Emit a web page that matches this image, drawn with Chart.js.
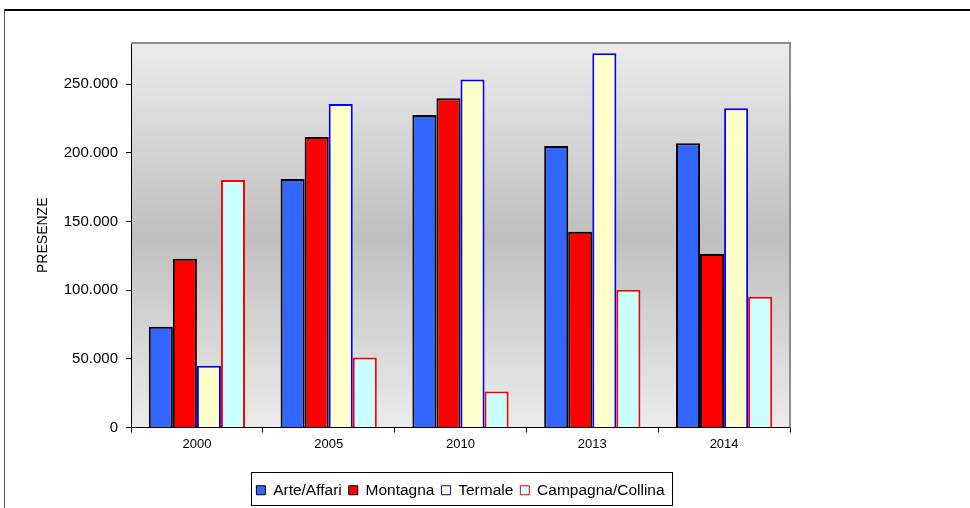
<!DOCTYPE html>
<html>
<head>
<meta charset="utf-8">
<script src="https://cdn.jsdelivr.net/npm/chart.js@4.4.1/dist/chart.umd.min.js"></script>
<style>
  html, body { margin:0; padding:0; background:#fff; }
  #wrap { position:relative; width:970px; height:508px; overflow:hidden; }
  #frame { position:absolute; left:4px; top:9px; width:980px; height:520px; border-top:2px solid #000; border-left:1px solid #555; box-sizing:border-box; }
  canvas { position:absolute; left:0; top:0; }
</style>
</head>
<body>
<div id="wrap">
  <div id="frame"></div>
  <canvas id="c" width="970" height="508"></canvas>
</div>
<script>
const categories = ['2000', '2005', '2010', '2013', '2014'];
const arteAffari = [73400, 181000, 227500, 205000, 207000];
const montagna = [122800, 211500, 239800, 142500, 126400];
const termale = [45000, 235500, 253500, 272500, 232500];
const campagnaCollina = [180200, 51000, 26200, 100400, 95200];
const yTicks = [0, 50000, 100000, 150000, 200000, 250000];

function fmt(v) {
  return String(v).replace(/\B(?=(\d{3})+(?!\d))/g, '.');
}

const FONT = 'Liberation Sans, Arial, sans-serif';

const bgPlugin = {
  id: 'plotBg',
  beforeDraw(chart) {
    const {ctx, chartArea: a} = chart;
    const g = ctx.createLinearGradient(0, a.top, 0, a.bottom);
    g.addColorStop(0, '#ececec');
    g.addColorStop(0.5, '#bfbfbf');
    g.addColorStop(1, '#ebebeb');
    ctx.save();
    ctx.fillStyle = g;
    ctx.fillRect(a.left, a.top, a.right - a.left, a.bottom - a.top);
    ctx.restore();
  },
  afterDraw(chart) {
    const {ctx, chartArea: a} = chart;
    ctx.save();
    ctx.strokeStyle = '#8c8c8c';
    ctx.lineWidth = 2;
    ctx.beginPath();
    ctx.moveTo(a.left, a.top);
    ctx.lineTo(a.right, a.top);
    ctx.lineTo(a.right, a.bottom);
    ctx.stroke();
    const lg = chart.legend;
    if (lg && lg.legendHitBoxes && lg.legendHitBoxes.length) {
      const hb = lg.legendHitBoxes;
      const x0 = hb[0].left - 5;
      const last = hb[hb.length - 1];
      const x1 = last.left + last.width + 8;
      const y0 = hb[0].top - 11;
      const y1 = hb[0].top + hb[0].height + 6;
      ctx.strokeStyle = '#000';
      ctx.lineWidth = 1;
      ctx.strokeRect(Math.round(x0) + 0.5, Math.round(y0) + 0.5, Math.round(x1 - x0), Math.round(y1 - y0));
    }
    ctx.restore();
  }
};

new Chart(document.getElementById('c'), {
  type: 'bar',
  data: {
    labels: categories,
    datasets: [
      { label: 'Arte/Affari', data: arteAffari, backgroundColor: '#3366ff', borderColor: '#000000', borderWidth: 2 },
      { label: 'Montagna', data: montagna, backgroundColor: '#ff0000', borderColor: '#000000', borderWidth: 2 },
      { label: 'Termale', data: termale, backgroundColor: '#ffffcc', borderColor: '#0000ff', borderWidth: 2 },
      { label: 'Campagna/Collina', data: campagnaCollina, backgroundColor: '#ccffff', borderColor: '#ff0000', borderWidth: 2 }
    ]
  },
  options: {
    responsive: false,
    animation: false,
    devicePixelRatio: 1,
    layout: { padding: { left: 32, top: 43, right: 180, bottom: 0 } },
    datasets: { bar: { categoryPercentage: 0.73, barPercentage: 1.0 } },
    plugins: {
      legend: {
        position: 'bottom',
        fullSize: false,
        labels: {
          boxWidth: 9, boxHeight: 9, padding: 7,
          color: '#000',
          generateLabels(chart) {
            const items = Chart.defaults.plugins.legend.labels.generateLabels(chart);
            items.forEach(it => { it.lineWidth = 1; });
            return items;
          },
          font: { family: FONT, size: 15.5 }
        }
      },
      tooltip: { enabled: false },
      title: { display: false }
    },
    scales: {
      x: {
        grid: { display: true, drawOnChartArea: false, drawTicks: true, tickLength: 5, color: '#000', offset: true },
        border: { display: true, color: '#000', width: 1 },
        ticks: { color: '#000', padding: 4, font: { family: FONT, size: 13 } },
        afterFit(s) { s.height = 48; }
      },
      y: {
        min: 0, max: 280000,
        afterBuildTicks(s) { s.ticks = yTicks.map(v => ({ value: v })); },
        grid: { display: true, drawOnChartArea: false, drawTicks: true, tickLength: 5, color: '#000' },
        border: { display: true, color: '#000', width: 1 },
        ticks: { color: '#000', padding: 8, font: { family: FONT, size: 15 }, callback: v => fmt(v) },
        title: { display: true, text: 'PRESENZE', color: '#000', padding: { top: 3, bottom: 0 }, font: { family: FONT, size: 14 } },
        afterFit(s) { s.width = 99; }
      }
    }
  },
  plugins: [bgPlugin]
});
</script>
</body>
</html>
